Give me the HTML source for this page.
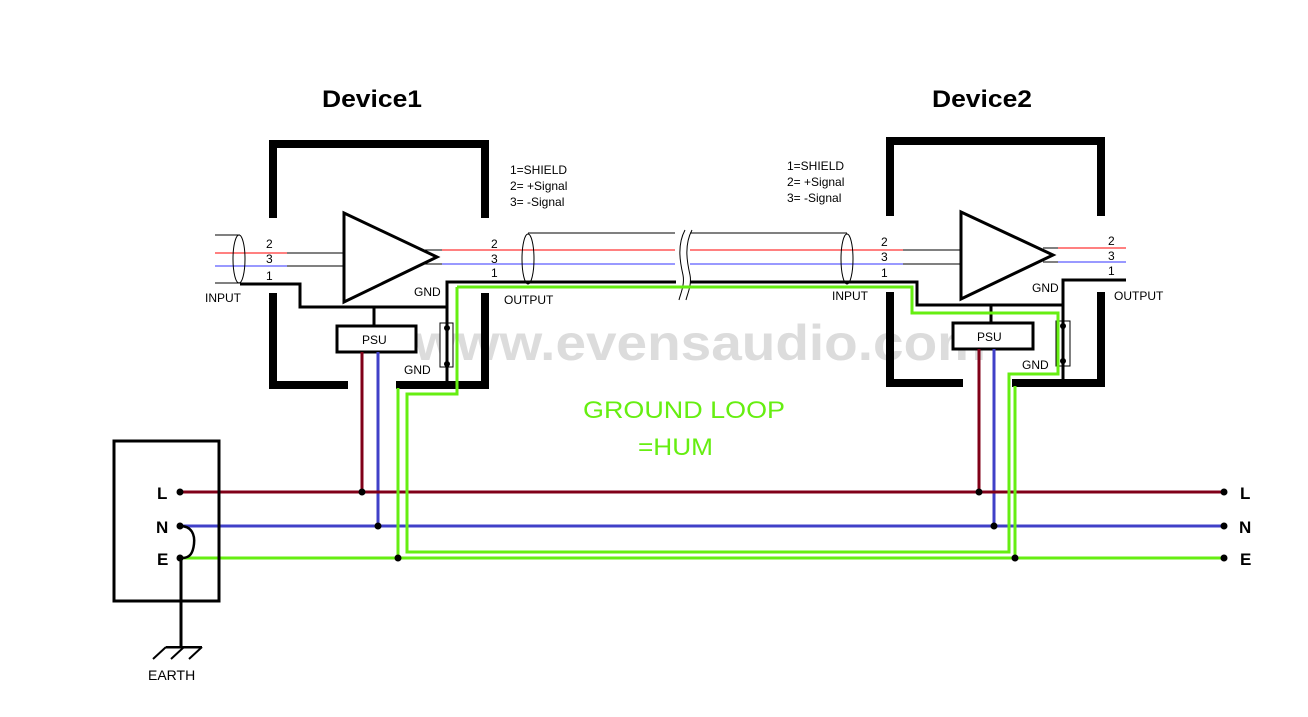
<!DOCTYPE html>
<html><head><meta charset="utf-8"><style>
html,body{margin:0;padding:0;background:#fff;}
svg{display:block;font-family:"Liberation Sans",Arial,sans-serif;}
line,rect,polyline{shape-rendering:crispEdges;}
</style></head><body>
<svg width="1308" height="717" viewBox="0 0 1308 717" xmlns="http://www.w3.org/2000/svg">
<rect width="1308" height="717" fill="#fff"/>
<text x="414" y="360" font-size="50" font-weight="bold" fill="#dcdcdc" textLength="572" lengthAdjust="spacingAndGlyphs">www.evensaudio.com</text>

<text x="322" y="107" font-size="24" font-weight="bold" textLength="100" lengthAdjust="spacingAndGlyphs">Device1</text>
<text x="932" y="107" font-size="24" font-weight="bold" textLength="100" lengthAdjust="spacingAndGlyphs">Device2</text>

<g fill="#000">
<rect x="269" y="140" width="220" height="8"/>
<rect x="269" y="140" width="8" height="78"/>
<rect x="481" y="140" width="8" height="78"/>
<rect x="269" y="293" width="8" height="96"/>
<rect x="481" y="293" width="8" height="96"/>
<rect x="269" y="381" width="79" height="8"/>
<rect x="396" y="381" width="93" height="8"/>
<rect x="886" y="137" width="219" height="8"/>
<rect x="886" y="137" width="8" height="79"/>
<rect x="1097" y="137" width="8" height="79"/>
<rect x="886" y="292" width="8" height="95"/>
<rect x="1097" y="292" width="8" height="95"/>
<rect x="886" y="379" width="77" height="8"/>
<rect x="1012" y="379" width="93" height="8"/>
</g>

<polygon points="344,213 344,302 437,257" fill="none" stroke="#000" stroke-width="3"/>
<polygon points="961,212 961,299 1053,255" fill="none" stroke="#000" stroke-width="3"/>

<line x1="215" y1="235" x2="240" y2="235" stroke="#000" stroke-width="1"/>
<line x1="215" y1="283" x2="240" y2="283" stroke="#000" stroke-width="1"/>
<line x1="215" y1="253" x2="287" y2="253" stroke="#f00" stroke-width="1"/>
<line x1="287" y1="253" x2="344" y2="253" stroke="#000" stroke-width="1"/>
<line x1="215" y1="266" x2="287" y2="266" stroke="#33f" stroke-width="1"/>
<line x1="287" y1="266" x2="344" y2="266" stroke="#000" stroke-width="1"/>
<ellipse cx="239" cy="259" rx="6" ry="24" fill="none" stroke="#000" stroke-width="1"/>
<polyline points="240,284 300,284 300,307 447,307" fill="none" stroke="#000" stroke-width="3"/>
<line x1="374" y1="307" x2="374" y2="326" stroke="#000" stroke-width="3"/>
<rect x="337" y="326" width="79" height="26" fill="#fff" stroke="#000" stroke-width="3"/>
<text x="362" y="344" font-size="12">PSU</text>

<line x1="425" y1="250" x2="442" y2="250" stroke="#000" stroke-width="1"/>
<line x1="425" y1="264" x2="442" y2="264" stroke="#000" stroke-width="1"/>
<line x1="442" y1="250" x2="675" y2="250" stroke="#f00" stroke-width="1"/>
<line x1="442" y1="264" x2="675" y2="264" stroke="#33f" stroke-width="1"/>
<line x1="690" y1="250" x2="903" y2="250" stroke="#f00" stroke-width="1"/>
<line x1="690" y1="264" x2="903" y2="264" stroke="#33f" stroke-width="1"/>
<line x1="903" y1="250" x2="961" y2="250" stroke="#000" stroke-width="1"/>
<line x1="903" y1="264" x2="961" y2="264" stroke="#000" stroke-width="1"/>
<line x1="528" y1="233" x2="675" y2="233" stroke="#000" stroke-width="1"/>
<line x1="690" y1="233" x2="847" y2="233" stroke="#000" stroke-width="1"/>
<ellipse cx="528" cy="259" rx="6" ry="25" fill="none" stroke="#000" stroke-width="1"/>
<ellipse cx="847" cy="259" rx="6" ry="25" fill="none" stroke="#000" stroke-width="1"/>
<polyline points="447,389 447,282 676,282" fill="none" stroke="#000" stroke-width="3"/>
<polyline points="690,282 917,282 917,305 1063,305" fill="none" stroke="#000" stroke-width="3"/>
<path d="M685,230 C677,245 680,262 683,275 C685,285 680,295 679,300" fill="none" stroke="#000" stroke-width="1"/>
<path d="M692,230 C684,245 687,262 690,275 C692,285 687,295 686,300" fill="none" stroke="#000" stroke-width="1"/>

<rect x="440" y="323" width="13" height="44" fill="#fff" stroke="#000" stroke-width="1"/>
<line x1="447" y1="323" x2="447" y2="389" stroke="#000" stroke-width="3"/>
<circle cx="447" cy="328" r="3"/><circle cx="447" cy="364" r="3"/>

<line x1="1043" y1="248" x2="1058" y2="248" stroke="#000" stroke-width="1"/>
<line x1="1043" y1="262" x2="1058" y2="262" stroke="#000" stroke-width="1"/>
<line x1="1058" y1="248" x2="1126" y2="248" stroke="#f00" stroke-width="1"/>
<line x1="1058" y1="262" x2="1126" y2="262" stroke="#33f" stroke-width="1"/>
<polyline points="1126,280 1063,280 1063,387" fill="none" stroke="#000" stroke-width="3"/>
<line x1="991" y1="305" x2="991" y2="323" stroke="#000" stroke-width="3"/>
<rect x="953" y="323" width="80" height="26" fill="#fff" stroke="#000" stroke-width="3"/>
<text x="977" y="341" font-size="12">PSU</text>
<rect x="1056" y="321" width="14" height="45" fill="none" stroke="#000" stroke-width="1"/>
<circle cx="1063" cy="326" r="3"/><circle cx="1063" cy="361" r="3"/>

<line x1="362" y1="352" x2="362" y2="492" stroke="#800018" stroke-width="3"/>
<line x1="378" y1="352" x2="378" y2="526" stroke="#4040c8" stroke-width="3"/>
<line x1="979" y1="349" x2="979" y2="492" stroke="#800018" stroke-width="3"/>
<line x1="994" y1="349" x2="994" y2="526" stroke="#4040c8" stroke-width="3"/>

<line x1="180" y1="492" x2="1224" y2="492" stroke="#800018" stroke-width="3"/>
<line x1="180" y1="526" x2="1224" y2="526" stroke="#4040c8" stroke-width="3"/>
<line x1="180" y1="558" x2="1224" y2="558" stroke="#66ee11" stroke-width="3"/>

<polyline points="457,287 912,287 912,313 1058,313 1058,374 1009,374 1009,552 407,552 407,394 457,394 457,287" fill="none" stroke="#66ee11" stroke-width="3"/>
<line x1="398" y1="388" x2="398" y2="558" stroke="#66ee11" stroke-width="3"/>
<line x1="1015" y1="386" x2="1015" y2="558" stroke="#66ee11" stroke-width="3"/>

<g fill="#000">
<circle cx="362" cy="492" r="3.5"/><circle cx="378" cy="526" r="3.5"/><circle cx="398" cy="558" r="3.5"/>
<circle cx="979" cy="492" r="3.5"/><circle cx="994" cy="526" r="3.5"/><circle cx="1015" cy="558" r="3.5"/>
<circle cx="1224" cy="492" r="3.5"/><circle cx="1224" cy="526" r="3.5"/><circle cx="1224" cy="558" r="3.5"/>
<circle cx="180" cy="492" r="3.5"/><circle cx="180" cy="526" r="3.5"/><circle cx="180" cy="558" r="3.5"/>
</g>

<rect x="114" y="441" width="105" height="160" fill="none" stroke="#000" stroke-width="3"/>
<path d="M180,526 C192,526 195,535 194,544 C193,553 190,558 182,558" fill="none" stroke="#000" stroke-width="2.5"/>
<line x1="181" y1="558" x2="181" y2="647" stroke="#000" stroke-width="3"/>
<line x1="166" y1="647" x2="202" y2="647" stroke="#000" stroke-width="2.5"/>
<path d="M166,647 L153,659 M184,647 L171,659 M202,647 L189,659" stroke="#000" stroke-width="2"/>
<text x="148" y="680" font-size="14">EARTH</text>
<g font-size="17" font-weight="bold">
<text x="157" y="499">L</text><text x="156" y="533">N</text><text x="157" y="565">E</text>
<text x="1240" y="499">L</text><text x="1239" y="533">N</text><text x="1240" y="565">E</text>
</g>

<g font-size="12">
<text x="266" y="248">2</text><text x="266" y="263">3</text><text x="266" y="280">1</text>
<text x="205" y="302">INPUT</text>
<text x="491" y="248">2</text><text x="491" y="263">3</text><text x="491" y="277">1</text>
<text x="504" y="304">OUTPUT</text>
<text x="414" y="296">GND</text>
<text x="404" y="374">GND</text>
<text x="510" y="174">1=SHIELD</text>
<text x="510" y="190">2= +Signal</text>
<text x="510" y="206">3= -Signal</text>
<text x="787" y="170">1=SHIELD</text>
<text x="787" y="186">2= +Signal</text>
<text x="787" y="202">3= -Signal</text>
<text x="881" y="246">2</text><text x="881" y="261">3</text><text x="881" y="277">1</text>
<text x="832" y="300">INPUT</text>
<text x="1032" y="292">GND</text>
<text x="1022" y="369">GND</text>
<text x="1108" y="245">2</text><text x="1108" y="260">3</text><text x="1108" y="275">1</text>
<text x="1114" y="300">OUTPUT</text>
</g>

<text x="583" y="418" font-size="24" fill="#66ee11" textLength="202" lengthAdjust="spacingAndGlyphs">GROUND LOOP</text>
<text x="638" y="455" font-size="24" fill="#66ee11" textLength="75" lengthAdjust="spacingAndGlyphs">=HUM</text>
</svg>
</body></html>
